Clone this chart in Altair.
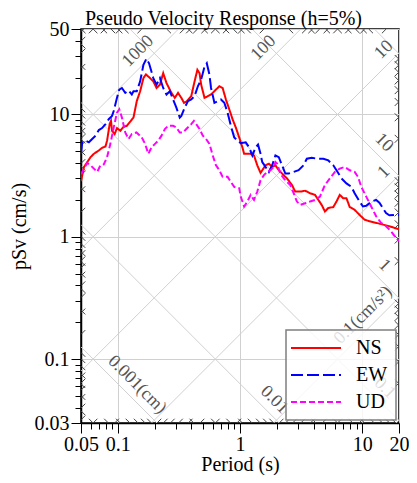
import math
import altair as alt
import pandas as pd

# ---------------- data ----------------
NS_T = [0.050, 0.0529, 0.0563, 0.0599, 0.0637, 0.070, 0.0744, 0.0793, 0.0817, 0.0859, 0.0880, 0.0897,
        0.0943, 0.0985, 0.1049, 0.1116, 0.1187, 0.1264, 0.1344, 0.1430, 0.1524, 0.1621, 0.1698, 0.1836,
        0.1953, 0.2077, 0.2213, 0.2353, 0.2503, 0.2748, 0.2927, 0.3113, 0.3311, 0.3481, 0.3682, 0.399,
        0.425, 0.448, 0.4667, 0.4808, 0.5125, 0.5449, 0.5794, 0.6362, 0.6778, 0.7208, 0.7667, 0.8168,
        0.8688, 0.924, 0.9845, 1.047, 1.081, 1.222, 1.302, 1.385, 1.473, 1.618, 1.723, 1.833, 1.949,
        2.077, 2.208, 2.424, 2.662, 2.83, 3.108, 3.412, 3.745, 4.111, 4.38, 4.66, 4.955, 5.28, 5.80,
        6.16, 6.55, 6.98, 7.43, 7.90, 8.67, 9.52, 10.45, 11.47, 13.82, 16.67, 20.0]
NS_SV = [2.85, 3.72, 4.08, 4.48, 4.77, 5.08, 5.34, 5.47, 6.11, 8.39, 8.87, 7.36,
         6.92, 7.74, 7.36, 7.93, 8.08, 8.75, 9.43, 12.86, 15.49, 19.84, 21.26, 19.84,
         18.66, 16.47, 17.55, 21.77, 18.08, 15.01, 13.68, 15.01, 13.68, 12.46, 12.86, 14.11,
         18.66, 23.2, 21.77, 17.55, 13.68, 14.11, 14.57, 15.99, 17.0, 16.47, 13.27, 11.02,
         9.15, 7.83, 6.5, 5.37, 4.77, 4.77, 4.62, 3.84, 3.33, 3.84, 3.96, 3.72, 3.84,
         3.50, 3.29, 3.00, 2.65, 2.34, 2.34, 2.38, 2.27, 2.20, 2.00, 1.82, 1.61, 1.72, 1.75,
         1.94, 2.20, 2.07, 2.07, 1.75, 1.66, 1.51, 1.38, 1.34, 1.28, 1.22, 1.15]

EW_T = [0.05, 0.0512, 0.0546, 0.0580, 0.0617, 0.0658, 0.070, 0.0744, 0.0793, 0.0843, 0.0897, 0.0926,
        0.0985, 0.1029, 0.1081, 0.1151, 0.1225, 0.1302, 0.1344, 0.1430, 0.1524, 0.1621, 0.1714, 0.1802,
        0.1953, 0.2077, 0.2213, 0.2353, 0.2503, 0.2667, 0.2836, 0.3016, 0.3214, 0.3311, 0.3527, 0.3752,
        0.399, 0.425, 0.452, 0.4808, 0.5125, 0.5348, 0.5625, 0.5794, 0.6174, 0.6568, 0.6985, 0.7443,
        0.7915, 0.8417, 0.8968, 0.9537, 1.014, 1.114, 1.186, 1.262, 1.342, 1.404, 1.473, 1.521, 1.618,
        1.723, 1.833, 1.949, 2.077, 2.208, 2.349, 2.502, 2.748, 3.016, 3.311, 3.522, 3.866, 4.245,
        4.81, 5.28, 5.80, 6.16, 6.77, 7.43, 8.16, 8.67, 9.52, 10.14, 10.79, 11.84, 13.0, 13.82, 14.73,
        15.67, 16.67, 18.3, 20.0]
EW_SV = [4.80, 5.92, 6.11, 5.92, 6.31, 6.71, 7.46, 7.74, 8.34, 9.15, 9.73, 10.68,
         13.68, 15.99, 16.47, 15.01, 15.69, 14.57, 15.49, 15.49, 18.66, 25.46, 28.62, 26.22,
         19.84, 17.55, 19.84, 16.47, 14.57, 15.49, 13.27, 11.36, 9.43, 9.73, 11.36, 12.86,
         13.27, 14.11, 17.0, 19.26, 24.66, 26.22, 21.13, 16.47, 12.46, 12.86, 13.27, 12.46,
         10.35, 8.08, 6.5, 6.11, 5.83, 5.92, 5.40, 4.62, 5.40, 5.67, 4.77, 4.08, 3.72,
         3.39, 3.84, 4.62, 4.48, 3.84, 3.29, 3.29, 3.39, 3.50, 3.84, 4.35, 4.43, 4.35,
         4.35, 4.21, 3.84, 3.50, 3.00, 2.73, 2.56, 2.27, 1.94, 1.77, 1.79, 1.94, 2.00, 1.90, 1.72,
         1.56, 1.50, 1.51, 1.51]

UD_T = [0.05, 0.0529, 0.0563, 0.0599, 0.0637, 0.0678, 0.0722, 0.0768, 0.0817, 0.0870, 0.0926, 0.0985,
        0.1029, 0.1081, 0.1151, 0.1225, 0.1302, 0.1422, 0.1570, 0.1672, 0.1778, 0.1891, 0.2016, 0.2144,
        0.2280, 0.2429, 0.2584, 0.2836, 0.3016, 0.3214, 0.3418, 0.3635, 0.399, 0.4196, 0.4380, 0.4667,
        0.4964, 0.5279, 0.5625, 0.5981, 0.6362, 0.6778, 0.7208, 0.7915, 0.8417, 0.8968, 0.9845, 1.014,
        1.081, 1.149, 1.222, 1.302, 1.385, 1.473, 1.570, 1.669, 1.776, 1.892, 1.949, 2.012, 2.139,
        2.280, 2.424, 2.578, 2.748, 2.922, 3.108, 3.412, 3.745, 4.111, 4.51, 4.955, 5.44, 5.97, 6.55,
        7.20, 7.90, 8.67, 9.24, 9.83, 10.79, 11.84, 13.0, 14.27, 15.67, 17.2, 18.89, 20.0]
UD_SV = [3.25, 3.61, 4.01, 3.84, 3.61, 3.39, 3.84, 3.91, 4.48, 5.75, 7.83, 10.35,
         11.02, 9.43, 7.13, 6.31, 6.92, 7.13, 6.5, 5.75, 4.77, 5.40, 5.75, 6.11,
         6.71, 7.60, 8.08, 8.08, 7.83, 7.13, 7.13, 7.60, 8.34, 8.87, 8.34, 7.60,
         6.71, 6.31, 5.75, 4.62, 3.84, 3.50, 3.09, 3.09, 2.81, 2.56, 2.49, 2.13,
         1.77, 1.94, 2.20, 2.00, 2.34, 2.90, 3.19, 3.39, 3.50, 3.72, 4.08, 3.96, 3.29,
         3.00, 2.81, 2.65, 2.27, 1.94, 1.82, 1.88, 1.94, 2.00, 2.13, 2.65, 3.00, 3.39, 3.61,
         3.72, 3.50, 3.39, 3.09, 2.56, 2.13, 1.77, 1.47, 1.30, 1.22, 1.11, 0.98, 0.92]

COMPONENTS = ["NS", "EW", "UD"]
COLORS = ["#ff0000", "#0000ff", "#ff00ff"]
DASHES = [[1, 0], [12, 4], [6, 3]]

X_MAJOR = [0.05, 0.1, 1, 10, 20]
X_MINOR = [0.06, 0.07, 0.08, 0.09, 0.2, 0.3, 0.4, 0.5, 0.6, 0.7, 0.8, 0.9,
           2, 3, 4, 5, 6, 7, 8, 9]
Y_MAJOR = [0.03, 0.1, 1, 10, 50]
Y_MINOR = [0.04, 0.05, 0.06, 0.07, 0.08, 0.09, 0.2, 0.3, 0.4, 0.5, 0.6, 0.7, 0.8, 0.9,
           2, 3, 4, 5, 6, 7, 8, 9, 20, 30, 40]

# tripartite diagonal lines: acceleration (cm/s^2) and displacement (cm)
ACC_LINES = [0.01, 0.1, 1, 10, 100, 1000]
DISP_LINES = [0.001, 0.01, 0.1, 1, 10, 100]
ACC_LABEL_VALUES = [1000, 100, 10, 1, 0.1]
ACC_LABEL_T = [0.174, 1.85, 17.9, 17.9, 12.1]
ACC_LABEL_TEXT = ["1000", "100", "10", "1", "0.1(cm/s²)"]
DISP_LABEL_VALUES = [0.001, 0.01, 0.1, 1, 10]
DISP_LABEL_T = [0.121, 1.61, 12.9, 12.8, 12.7]
DISP_LABEL_TEXT = ["0.001(cm)", "0.01", "0.1", "1", "10"]

T_MIN, T_MAX = 0.05, 20.0
SV_MIN, SV_MAX = 0.03, 50.0
TWO_PI = 2 * math.pi

# ---------------- tables ----------------
rows = []
for name, ts, vs in zip(COMPONENTS, [NS_T, EW_T, UD_T], [NS_SV, EW_SV, UD_SV]):
    for t, v in zip(ts, vs):
        rows.append({"comp": name, "T": t, "Sv": v})
curves_df = pd.DataFrame(rows)

diag_rows = []
for a in ACC_LINES:
    t0 = max(T_MIN, TWO_PI * SV_MIN / a)
    t1 = min(T_MAX, TWO_PI * SV_MAX / a)
    if t0 < t1:
        diag_rows.append({"T": t0, "Sv": a * t0 / TWO_PI, "T2": t1, "Sv2": a * t1 / TWO_PI})
for d in DISP_LINES:
    t0 = max(T_MIN, TWO_PI * d / SV_MAX)
    t1 = min(T_MAX, TWO_PI * d / SV_MIN)
    if t0 < t1:
        diag_rows.append({"T": t0, "Sv": TWO_PI * d / t0, "T2": t1, "Sv2": TWO_PI * d / t1})
diag_df = pd.DataFrame(diag_rows)

f = 10 ** 0.035
tick_rows = []


def inside_v(v):
    return SV_MIN < v < SV_MAX


def inside_t(t):
    return T_MIN < t < T_MAX


for k in range(-4, 5):
    for m in range(2, 10):
        val = m * 10 ** k
        # acceleration lines (slope +1)
        v = val * T_MIN / TWO_PI
        if inside_v(v):
            tick_rows.append((T_MIN, v, T_MIN * f, v * f))
        v = val * T_MAX / TWO_PI
        if inside_v(v):
            tick_rows.append((T_MAX, v, T_MAX / f, v / f))
        t = TWO_PI * SV_MIN / val
        if inside_t(t):
            tick_rows.append((t, SV_MIN, t * f, SV_MIN * f))
        t = TWO_PI * SV_MAX / val
        if inside_t(t):
            tick_rows.append((t, SV_MAX, t / f, SV_MAX / f))
        # displacement lines (slope -1)
        v = TWO_PI * val / T_MIN
        if inside_v(v):
            tick_rows.append((T_MIN, v, T_MIN * f, v / f))
        v = TWO_PI * val / T_MAX
        if inside_v(v):
            tick_rows.append((T_MAX, v, T_MAX / f, v * f))
        t = TWO_PI * val / SV_MIN
        if inside_t(t):
            tick_rows.append((t, SV_MIN, t / f, SV_MIN * f))
        t = TWO_PI * val / SV_MAX
        if inside_t(t):
            tick_rows.append((t, SV_MAX, t * f, SV_MAX / f))
ticks_df = pd.DataFrame(tick_rows, columns=["T", "Sv", "T2", "Sv2"])

acc_lab_df = pd.DataFrame({
    "T": ACC_LABEL_T,
    "Sv": [a * t / TWO_PI for a, t in zip(ACC_LABEL_VALUES, ACC_LABEL_T)],
    "label": ACC_LABEL_TEXT,
})
disp_lab_df = pd.DataFrame({
    "T": DISP_LABEL_T,
    "Sv": [TWO_PI * d / t for d, t in zip(DISP_LABEL_VALUES, DISP_LABEL_T)],
    "label": DISP_LABEL_TEXT,
})

# ---------------- chart ----------------
FONT = "Liberation Serif"
xscale = alt.Scale(type="log", domain=[T_MIN, T_MAX], nice=False)
yscale = alt.Scale(type="log", domain=[SV_MIN, SV_MAX], nice=False)

common_axis = dict(
    domainColor="black", domainWidth=1.5, tickColor="black", tickWidth=1,
    labelFont=FONT, labelFontSize=20, labelColor="black",
    titleFont=FONT, titleFontSize=20, titleFontWeight="normal", titleColor="black",
    labelOverlap=False, labelFlush=False, format="~g",
)
x_major = alt.Axis(values=X_MAJOR, orient="bottom", tickSize=10, labelPadding=1,
                   grid=True, gridColor="#d0d0d0", gridWidth=1,
                   title="Period (s)", titlePadding=0, **common_axis)
y_major = alt.Axis(values=Y_MAJOR, orient="left", tickSize=10, labelPadding=2,
                   grid=True, gridColor="#d0d0d0", gridWidth=1,
                   title="pSv (cm/s)", titlePadding=5, **common_axis)
x_minor = alt.Axis(values=X_MINOR, orient="bottom", tickSize=6, labels=False, grid=False,
                   domain=False, title=None, tickColor="black", tickWidth=1)
y_minor = alt.Axis(values=Y_MINOR, orient="left", tickSize=6, labels=False, grid=False,
                   domain=False, title=None, tickColor="black", tickWidth=1)

diag = alt.Chart(diag_df).mark_rule(color="#d0d0d0", strokeWidth=1, clip=True).encode(
    x=alt.X("T:Q", scale=xscale, axis=None),
    y=alt.Y("Sv:Q", scale=yscale, axis=None),
    x2="T2:Q", y2="Sv2:Q",
)
dticks = alt.Chart(ticks_df).mark_rule(color="#444444", strokeWidth=1, clip=True).encode(
    x=alt.X("T:Q", scale=xscale, axis=x_minor),
    y=alt.Y("Sv:Q", scale=yscale, axis=y_minor),
    x2="T2:Q", y2="Sv2:Q",
)
acc_text = alt.Chart(acc_lab_df).mark_text(
    font=FONT, fontSize=18, color="#555555", angle=315, dy=-13, align="center", baseline="middle"
).encode(
    x=alt.X("T:Q", scale=xscale, axis=None),
    y=alt.Y("Sv:Q", scale=yscale, axis=None),
    text="label:N",
)
disp_text = alt.Chart(disp_lab_df).mark_text(
    font=FONT, fontSize=18, color="#555555", angle=45, dy=-13, align="center", baseline="middle"
).encode(
    x=alt.X("T:Q", scale=xscale, axis=None),
    y=alt.Y("Sv:Q", scale=yscale, axis=None),
    text="label:N",
)
lines = alt.Chart(curves_df).mark_line(strokeWidth=2, clip=True).encode(
    x=alt.X("T:Q", scale=xscale, axis=x_major),
    y=alt.Y("Sv:Q", scale=yscale, axis=y_major),
    color=alt.Color("comp:N", scale=alt.Scale(domain=COMPONENTS, range=COLORS), title=None),
    strokeDash=alt.StrokeDash("comp:N", scale=alt.Scale(domain=COMPONENTS, range=DASHES), title=None),
    order=alt.Order("T:Q"),
)

chart = alt.layer(diag, dticks, acc_text, disp_text, lines).resolve_axis(
    x="independent", y="independent"
).properties(
    width=318, height=394,
    autosize=alt.AutoSizeParams(type="none"),
    padding={"left": 73, "top": 21, "right": 10, "bottom": 52},
    title=alt.TitleParams("Pseudo Velocity Response (h=5%)", font=FONT, fontSize=20,
                          fontWeight="normal", anchor="start", frame="group", dx=4, dy=13,
                          offset=-13, baseline="alphabetic", color="black"),
).configure_view(stroke="black", strokeWidth=1.5).configure_legend(
    orient="bottom-right", offset=3, padding=8,
    fillColor="rgba(255,255,255,0.8)", strokeColor="#7f7f7f", strokeWidth=1.5,
    symbolType="M-5,0H5", symbolSize=100, symbolStrokeWidth=2, symbolOffset=12,
    labelFont=FONT, labelFontSize=20, labelColor="black", labelOffset=30, rowPadding=7,
)

chart.save("out.html", embed_options={"renderer": "svg", "actions": False})
